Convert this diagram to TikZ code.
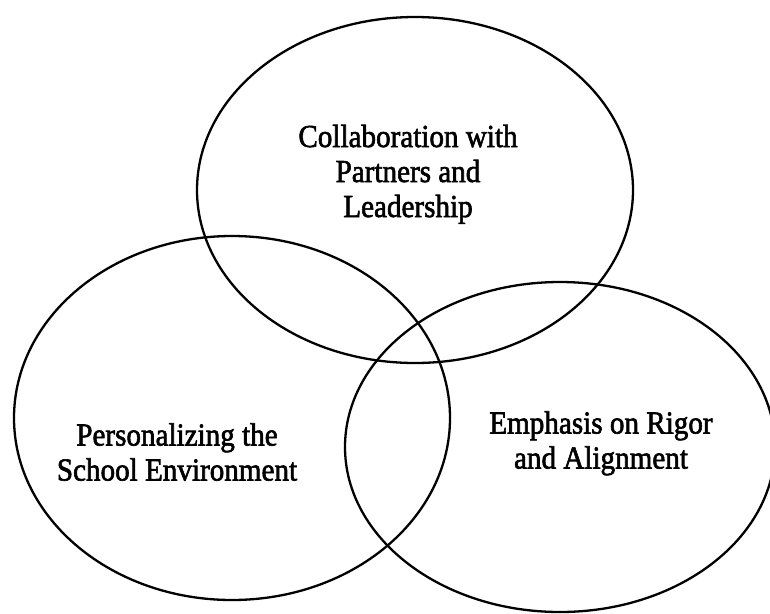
\documentclass[tikz,border=0pt]{standalone}
\usepackage{fontspec}
\setmainfont{Liberation Serif}
\newfontfamily\lblfont{Liberation Serif}[FakeBold=2]
\newcommand{\lbltext}[1]{\scalebox{0.91}[1]{\begin{tabular}{@{}c@{}}#1\end{tabular}}}
\begin{document}
\begin{tikzpicture}[x=1pt,y=-1pt,
  ring/.style={draw=black,line width=2.3pt},
  lbl/.style={inner sep=0pt,font=\lblfont\fontsize{32}{35}\selectfont}]
\useasboundingbox (0,0) rectangle (770,613);
\clip (0,0) rectangle (770,613);
\fill[white] (0,0) rectangle (770,613);
\draw[ring] (415,190) ellipse [x radius=218, y radius=173];
\draw[ring] (232,418) ellipse [x radius=218, y radius=182];
\draw[ring] (560,447) ellipse [x radius=215, y radius=165];
\node[lbl] (top) at (408,175) {\lbltext{Collaboration with\\Partners and\\Leadership}};
\node[lbl] (left) at (177,456) {\lbltext{Personalizing the\\School Environment}};
\node[lbl] (right) at (601,444) {\lbltext{Emphasis on Rigor\\and Alignment}};
\end{tikzpicture}
\end{document}
